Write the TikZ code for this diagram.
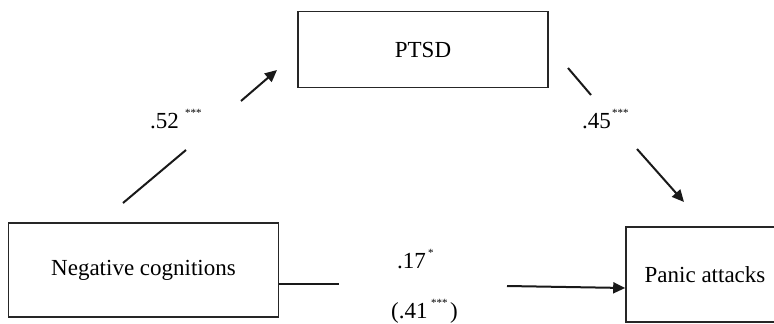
\documentclass[tikz,border=0pt]{standalone}
\usepackage{fontspec}
\setmainfont{Liberation Serif}
\usetikzlibrary{arrows.meta}
\begin{document}
\begin{tikzpicture}[x=1pt,y=-1pt,
  box/.style={draw=black!85, line width=1.6pt, inner sep=0pt, font=\fontsize{23}{26}\selectfont},
  conn/.style={draw=black!90, line width=2pt},
  arr/.style={conn, -{Triangle[length=12pt,width=11pt]}},
  lab/.style={anchor=base west, inner sep=0pt, font=\fontsize{23}{26}\selectfont},
  stars/.style={anchor=base west, inner sep=0pt, font=\fontsize{11}{12}\selectfont}]
\useasboundingbox (0,0) rectangle (774,324);
\clip (0,0) rectangle (774,324);
% boxes
\node[box, minimum width=250pt, minimum height=76pt] (ptsd) at (423,49.5) {PTSD};
\node[box, minimum width=270pt, minimum height=94pt] (nc) at (143.5,270) {Negative cognitions};
\node[box, minimum width=158pt, minimum height=95pt] (pa) at (705,274.5) {Panic attacks};
% connector points
\coordinate (a1) at (123,203);
\coordinate (a2) at (186,150);
\coordinate (a3) at (241,101);
\coordinate (a4) at (277,70);
\coordinate (b1) at (568,68);
\coordinate (b2) at (591,95);
\coordinate (b3) at (637,149);
\coordinate (b4) at (684,202);
\coordinate (c2) at (339,284);
\coordinate (c3) at (507,286);
\coordinate (c4) at (626,288);
% connectors
\draw[conn] (a1) -- (a2);
\draw[arr] (a3) -- (a4);
\draw[conn] (b1) -- (b2);
\draw[arr] (b3) -- (b4);
\draw[conn] (nc.east |- c2) -- (c2);
\draw[arr] (c3) -- (pa.west |- c4);
% labels
\node[lab] (l52) at (150,128) {.52};
\node[stars] (s52) at (185,116) {***};
\node[lab] (l45) at (582,128) {.45};
\node[stars] (s45) at (612,116) {***};
\node[lab] (l17) at (397,268) {.17};
\node[stars] (s17) at (428,256) {*};
\node[lab] (l41) at (391,318) {(.41};
\node[stars] (s41) at (431,306) {***};
\node[lab] (r41) at (450,318) {)};
\end{tikzpicture}
\end{document}
